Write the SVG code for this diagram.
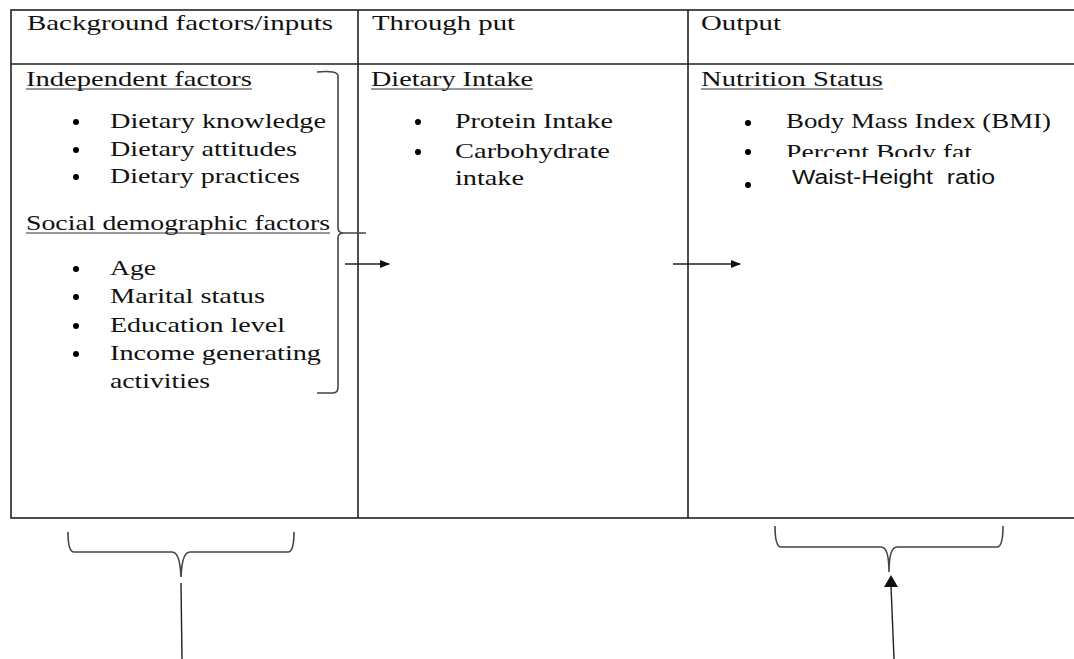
<svg xmlns="http://www.w3.org/2000/svg" width="1074" height="659" viewBox="0 0 1074 659">
<style>
.t{font-family:"Liberation Serif","Times New Roman",serif;font-size:21px;fill:#111}
.s{font-family:"Liberation Sans",Arial,sans-serif;font-size:20px;fill:#111}
.grid{stroke:#222;stroke-width:1.6;fill:none}
.br{stroke:#444;stroke-width:1.6;fill:none}
.ul{stroke:#333;stroke-width:1.2}
.ln{stroke:#222;stroke-width:1.4;fill:none}
</style>
<defs>
<marker id="ah" markerWidth="10" markerHeight="8" refX="9" refY="4" orient="auto" markerUnits="userSpaceOnUse">
<path d="M0,0 L10,4 L0,8 Z" fill="#111"/>
</marker>
<clipPath id="cut"><rect x="700" y="130" width="300" height="27"/></clipPath>
</defs>
<g id="table">
<rect class="grid" x="11" y="10" width="1075" height="508"/>
<line class="grid" x1="11" y1="64" x2="1086" y2="64"/>
<line class="grid" x1="358" y1="10" x2="358" y2="518"/>
<line class="grid" x1="688" y1="10" x2="688" y2="518"/>
</g>
<g id="col-inputs">
<text class="t" x="27" y="30" textLength="306" lengthAdjust="spacingAndGlyphs">Background factors/inputs</text>
<text class="t" x="26" y="86" textLength="226" lengthAdjust="spacingAndGlyphs">Independent factors</text>
<line class="ul" x1="26" y1="89" x2="252" y2="89"/>
<circle cx="76" cy="122" r="3"/><text class="t" x="110" y="128" textLength="216" lengthAdjust="spacingAndGlyphs">Dietary knowledge</text>
<circle cx="76" cy="150" r="3"/><text class="t" x="110" y="156" textLength="187" lengthAdjust="spacingAndGlyphs">Dietary attitudes</text>
<circle cx="76" cy="177" r="3"/><text class="t" x="110" y="183" textLength="190" lengthAdjust="spacingAndGlyphs">Dietary practices</text>
<text class="t" x="26" y="230" textLength="304" lengthAdjust="spacingAndGlyphs">Social demographic factors</text>
<line class="ul" x1="26" y1="233" x2="330" y2="233"/>
<circle cx="76" cy="269" r="3"/><text class="t" x="110" y="275" textLength="46" lengthAdjust="spacingAndGlyphs">Age</text>
<circle cx="76" cy="297" r="3"/><text class="t" x="110" y="303" textLength="155" lengthAdjust="spacingAndGlyphs">Marital status</text>
<circle cx="76" cy="326" r="3"/><text class="t" x="110" y="332" textLength="175" lengthAdjust="spacingAndGlyphs">Education level</text>
<circle cx="76" cy="354" r="3"/><text class="t" x="110" y="360" textLength="211" lengthAdjust="spacingAndGlyphs">Income generating</text>
<text class="t" x="110" y="388" textLength="100" lengthAdjust="spacingAndGlyphs">activities</text>
<path class="br" d="M317,72 Q338,70 338,76 L338,228 Q338,233 344,233 L366,233 M344,233 Q338,233 338,238 L338,387 Q338,393 333,393 L317,393"/>
</g>
<g id="col-throughput">
<text class="t" x="372" y="30" textLength="143" lengthAdjust="spacingAndGlyphs">Through put</text>
<text class="t" x="371" y="86" textLength="162" lengthAdjust="spacingAndGlyphs">Dietary Intake</text>
<line class="ul" x1="371" y1="89" x2="533" y2="89"/>
<circle cx="418" cy="122" r="3"/><text class="t" x="455" y="128" textLength="158" lengthAdjust="spacingAndGlyphs">Protein Intake</text>
<circle cx="418" cy="152" r="3"/><text class="t" x="455" y="158" textLength="155" lengthAdjust="spacingAndGlyphs">Carbohydrate</text>
<text class="t" x="455" y="185" textLength="69" lengthAdjust="spacingAndGlyphs">intake</text>
</g>
<g id="col-output">
<text class="t" x="701" y="30" textLength="80" lengthAdjust="spacingAndGlyphs">Output</text>
<text class="t" x="701" y="86" textLength="182" lengthAdjust="spacingAndGlyphs">Nutrition Status</text>
<line class="ul" x1="701" y1="89" x2="883" y2="89"/>
<circle cx="748" cy="123" r="3"/><text class="t" x="786" y="128" textLength="265" lengthAdjust="spacingAndGlyphs">Body Mass Index (BMI)</text>
<circle cx="748" cy="152" r="3"/><text class="t" x="786" y="159" textLength="186" lengthAdjust="spacingAndGlyphs" clip-path="url(#cut)">Percent Body fat</text>
<circle cx="748" cy="185" r="3"/><text class="s" x="792" y="184" textLength="203" lengthAdjust="spacingAndGlyphs" xml:space="preserve">Waist-Height  ratio</text>
</g>
<g id="connectors">
<line class="ln" x1="345" y1="264" x2="389" y2="264" marker-end="url(#ah)"/>
<line class="ln" x1="673" y1="264" x2="740" y2="264" marker-end="url(#ah)"/>
<path class="br" d="M68,532 Q68,552 74,552 L172,552 Q180,552 181,577 Q182,552 190,552 L288,552 Q294,552 294,532"/>
<line class="ln" x1="181" y1="583" x2="182" y2="659"/>
<path class="br" d="M775,526 Q775,547 781,547 L881,547 Q889,547 889,572 Q889,547 897,547 L997,547 Q1003,547 1003,526"/>
<line class="ln" x1="894" y1="659" x2="891" y2="586"/>
<path d="M884,587 L891,575 L898,587 Z" fill="#111"/>
</g>
</svg>
